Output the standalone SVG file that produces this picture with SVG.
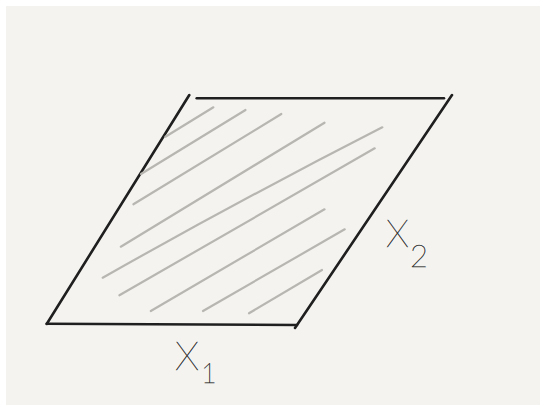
<svg xmlns="http://www.w3.org/2000/svg" width="546" height="411" viewBox="0 0 546 411">
<style>
.edge{stroke:#1f1f1f;stroke-width:2.6;stroke-linecap:round;fill:none}
.hatch{stroke:#b8b6b0;stroke-width:2.2;stroke-linecap:round;fill:none}
.lbl{font-family:Lato,"Liberation Sans",sans-serif;font-weight:100;fill:#111111;stroke:#333333;stroke-width:0.4}
</style>
<rect x="0" y="0" width="546" height="411" fill="#ffffff"/>
<rect x="6" y="6" width="534" height="399" fill="#f4f3f0"/>
<g id="parallelogram">
<line class="edge" x1="46.7" y1="324" x2="189.3" y2="95"/>
<line class="edge" x1="196.7" y1="98.3" x2="444" y2="98.3" stroke-width="3.2"/>
<line class="edge" x1="452" y1="95" x2="295" y2="328"/>
<line class="edge" x1="46.7" y1="323.8" x2="297" y2="325" stroke-width="3"/>
</g>
<g id="hatching">
<line class="hatch" x1="165.4" y1="136.7" x2="213.4" y2="107.3"/>
<line class="hatch" x1="141" y1="174" x2="245.5" y2="110"/>
<line class="hatch" x1="133.4" y1="204.3" x2="281.3" y2="114"/>
<line class="hatch" x1="120.8" y1="246.7" x2="324.5" y2="122.7"/>
<path class="hatch" d="M102.7 277.7 Q240 200 382.3 127.3" stroke-width="2.8"/>
<line class="hatch" x1="119.4" y1="295.3" x2="374.7" y2="148.3"/>
<line class="hatch" x1="150.8" y1="311" x2="324.5" y2="209.3"/>
<line class="hatch" x1="203" y1="311" x2="344.7" y2="229.3"/>
<line class="hatch" x1="249" y1="313.3" x2="322" y2="270"/>
</g>
<g id="label-x1">
<text class="lbl" x="175" y="370" font-size="40">X</text>
<text class="lbl" x="201" y="383" font-size="27">1</text>
</g>
<g id="label-x2">
<text class="lbl" x="386" y="247" font-size="38">X</text>
<text class="lbl" x="410" y="267" font-size="31">2</text>
</g>
</svg>
